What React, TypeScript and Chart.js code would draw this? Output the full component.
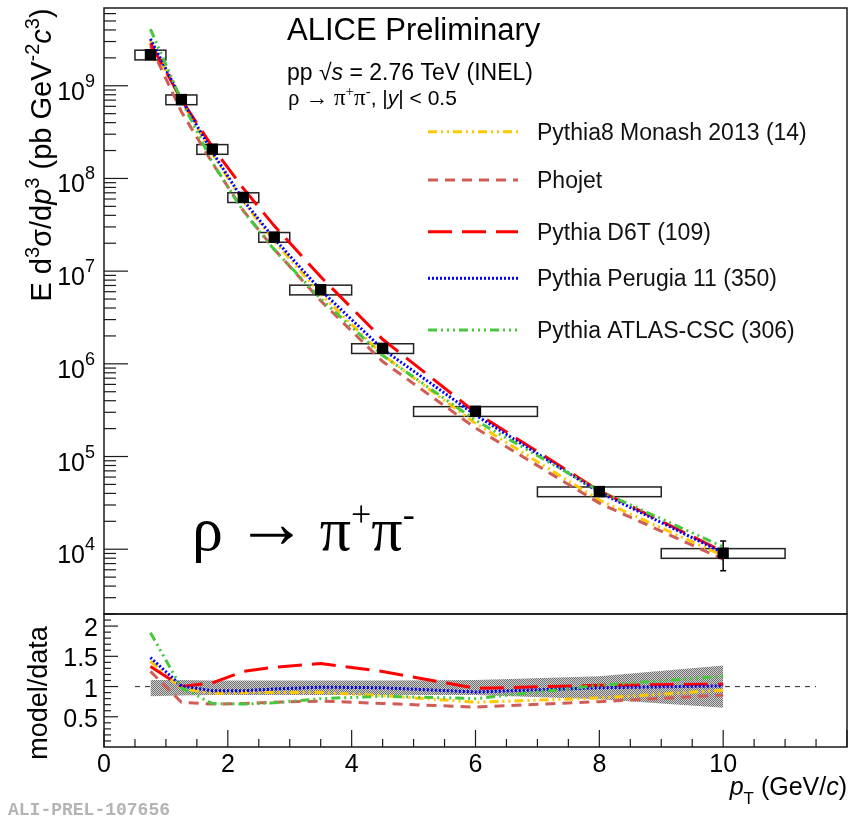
import React, { useEffect, useRef } from 'react';
import { Chart, registerables } from 'chart.js';
Chart.register(...registerables);

// ---------------- data ----------------
const ptCenters = [0.75, 1.25, 1.75, 2.25, 2.75, 3.5, 4.5, 6, 8, 10];
const ptBinLow = [0.5, 1, 1.5, 2, 2.5, 3, 4, 5, 7, 9];
const ptBinHigh = [1, 1.5, 2, 2.5, 3, 4, 5, 7, 9, 11];
const measured = [2.16e9, 7.1e8, 2.07e8, 6.25e7, 2.33e7, 6.3e6, 1.47e6, 3.08e5, 4.19e4, 9.06e3];
const statErr = [1.5e7, 5e6, 1.5e6, 5e5, 2e5, 6e4, 2e4, 6e3, 2.5e3, 3.2e3];
const sysRel = [0.12, 0.12, 0.12, 0.12, 0.12, 0.12, 0.12, 0.12, 0.12, 0.12];

const monashYield = [3.07e9, 6.89e8, 1.84e8, 5.63e7, 2.10e7, 5.67e6, 1.25e6, 2.28e5, 3.39e4, 8.52e3];
const phojetYield = [2.70e9, 5.25e8, 1.47e8, 4.50e7, 1.72e7, 4.79e6, 1.06e6, 2.03e5, 3.14e4, 7.79e3];
const d6tYield = [2.87e9, 7.10e8, 2.19e8, 7.81e7, 3.08e7, 8.69e6, 1.84e6, 2.99e5, 4.27e4, 9.42e3];
const perugiaYield = [3.20e9, 7.17e8, 1.93e8, 5.81e7, 2.24e7, 6.24e6, 1.44e6, 2.80e5, 4.11e4, 9.15e3];
const atlasYield = [4.08e9, 6.96e8, 1.49e8, 4.44e7, 1.70e7, 5.04e6, 1.23e6, 2.46e5, 4.27e4, 1.06e4];

const monashRatio = [1.42, 0.97, 0.89, 0.90, 0.90, 0.90, 0.85, 0.74, 0.81, 0.94];
const phojetRatio = [1.25, 0.74, 0.71, 0.72, 0.74, 0.76, 0.72, 0.66, 0.75, 0.86];
const d6tRatio = [1.33, 1.0, 1.06, 1.25, 1.32, 1.38, 1.25, 0.97, 1.02, 1.04];
const perugiaRatio = [1.48, 1.01, 0.93, 0.93, 0.96, 0.99, 0.98, 0.91, 0.98, 1.01];
const atlasRatio = [1.89, 0.98, 0.72, 0.71, 0.73, 0.80, 0.84, 0.80, 1.02, 1.17];

const bandLow = [0.84, 0.85, 0.86, 0.86, 0.86, 0.86, 0.86, 0.86, 0.79, 0.65];
const bandHigh = [1.11, 1.11, 1.10, 1.10, 1.10, 1.10, 1.10, 1.11, 1.17, 1.35];

const unityX = [0.5, 11.5];
const unityY = [1, 1];

const xTickLabels = [0, 2, 4, 6, 8, 10];
const ratioTickLabels = [0.5, 1, 1.5, 2];
const decadeExponents = [4, 5, 6, 7, 8, 9];

const modelNames = [
  'Pythia8 Monash 2013 (14)',
  'Phojet',
  'Pythia D6T (109)',
  'Pythia Perugia 11 (350)',
  'Pythia ATLAS-CSC (306)',
];
const modelYields = [monashYield, phojetYield, d6tYield, perugiaYield, atlasYield];
const modelRatios = [monashRatio, phojetRatio, d6tRatio, perugiaRatio, atlasRatio];

// ---------------- styles ----------------
const modelStyles = [
  { color: 'rgb(255,200,0)', dash: [9, 4, 2, 4, 2, 4] },
  { color: 'rgb(208,92,86)', dash: [10, 7] },
  { color: 'rgb(255,0,0)', dash: [24, 10] },
  { color: 'rgb(0,0,255)', dash: [2, 2] },
  { color: 'rgb(70,200,60)', dash: [9, 4, 2, 4, 2, 4, 2, 4] },
];

const SANS = "'Liberation Sans', Arial, sans-serif";
const SERIF = "'Liberation Serif', 'Times New Roman', serif";
const MONO = "'Liberation Mono', monospace";

type Seg = { t: string; px: number; fam?: string; it?: boolean; dy?: number; bold?: boolean };
const fontOf = (s: Seg) => `${s.it ? 'italic ' : ''}${s.bold ? 'bold ' : ''}${s.px}px ${s.fam || SANS}`;
function drawRich(ctx: CanvasRenderingContext2D, segs: Seg[], x: number, y: number, align = 'left') {
  let w = 0;
  for (const s of segs) { ctx.font = fontOf(s); w += ctx.measureText(s.t).width; }
  let cx = align === 'left' ? x : align === 'right' ? x - w : x - w / 2;
  ctx.textAlign = 'left';
  ctx.textBaseline = 'alphabetic';
  for (const s of segs) {
    ctx.font = fontOf(s);
    ctx.fillText(s.t, cx, y + (s.dy || 0));
    cx += ctx.measureText(s.t).width;
  }
}

function makePattern(): any {
  const c = document.createElement('canvas');
  c.width = 2; c.height = 2;
  const g = c.getContext('2d')!;
  g.fillStyle = '#d0d0d0'; g.fillRect(0, 0, 2, 2);
  g.fillStyle = '#707070'; g.fillRect(0, 0, 1, 1); g.fillRect(1, 1, 1, 1);
  return g.createPattern(c, 'repeat');
}

const line = (ctx: CanvasRenderingContext2D, x1: number, y1: number, x2: number, y2: number) => {
  ctx.beginPath(); ctx.moveTo(x1, y1); ctx.lineTo(x2, y2); ctx.stroke();
};

const topPlugin = {
  id: 'topDecor',
  beforeDatasetsDraw(chart: any) {
    const { ctx, scales: { x, y } } = chart;
    ctx.save();
    ctx.strokeStyle = '#222';
    ctx.lineWidth = 1.5;
    for (let i = 0; i < ptCenters.length; i++) {
      const l = x.getPixelForValue(ptBinLow[i]);
      const r = x.getPixelForValue(ptBinHigh[i]);
      const t = y.getPixelForValue(measured[i] * (1 + sysRel[i]));
      const b = y.getPixelForValue(measured[i] * (1 - sysRel[i]));
      ctx.strokeRect(l, t, r - l, b - t);
    }
    ctx.restore();
  },
  afterDatasetsDraw(chart: any) {
    const { ctx, chartArea: a, scales: { x, y } } = chart;
    ctx.save();
    // stat error bars
    ctx.strokeStyle = '#000';
    ctx.lineWidth = 1.5;
    for (let i = 0; i < ptCenters.length; i++) {
      const px = x.getPixelForValue(ptCenters[i]);
      const t = y.getPixelForValue(measured[i] + statErr[i]);
      const b = y.getPixelForValue(measured[i] - statErr[i]);
      line(ctx, px, t, px, b);
      line(ctx, px - 3, t, px + 3, t);
      line(ctx, px - 3, b, px + 3, b);
    }
    // frame
    ctx.strokeStyle = '#1a1a1a';
    ctx.lineWidth = 1.5;
    ctx.strokeRect(a.left, a.top, a.right - a.left, a.bottom - a.top);
    // y ticks
    ctx.lineWidth = 1.2;
    for (let e = 3; e <= 9; e++) {
      for (let m = 1; m <= 9; m++) {
        const v = m * Math.pow(10, e);
        if (v < y.min || v > y.max) continue;
        const py = y.getPixelForValue(v);
        line(ctx, a.left, py, a.left + (m === 1 ? 24 : 12), py);
      }
    }
    // y labels
    ctx.fillStyle = '#000';
    for (const e of decadeExponents) {
      const py = y.getPixelForValue(Math.pow(10, e));
      drawRich(ctx, [{ t: '10', px: 25 }, { t: String(e), px: 18, dy: -13 }], 95, py + 14, 'right');
    }
    // y title
    ctx.save();
    ctx.translate(51, 155);
    ctx.rotate(-Math.PI / 2);
    drawRich(ctx, [
      { t: 'E d', px: 29 }, { t: '3', px: 20, dy: -12 }, { t: 'σ/d', px: 29 }, { t: 'p', px: 29, it: true },
      { t: '3', px: 20, dy: -12 }, { t: ' (pb GeV', px: 29 }, { t: '-2', px: 20, dy: -12 },
      { t: 'c', px: 29, it: true }, { t: '3', px: 20, dy: -12 }, { t: ')', px: 29 },
    ], 0, 0, 'center');
    ctx.restore();
    // header
    drawRich(ctx, [{ t: 'ALICE Preliminary', px: 31 }], 287, 40);
    drawRich(ctx, [{ t: 'pp ', px: 23 }, { t: '√', px: 23 }, { t: 's', px: 23, it: true }, { t: ' = 2.76 TeV (INEL)', px: 23 }], 287, 80);
    drawRich(ctx, [
      { t: 'ρ → π', px: 23, fam: SERIF }, { t: '+', px: 15, fam: SERIF, dy: -9 }, { t: 'π', px: 23, fam: SERIF },
      { t: '-', px: 15, fam: SERIF, dy: -9 }, { t: ', |', px: 21 }, { t: 'y', px: 21, it: true }, { t: '| < 0.5', px: 21 },
    ], 288, 105);
    // legend
    const rows = [131.7, 180, 231.7, 278.3, 330];
    for (let k = 0; k < modelNames.length; k++) {
      ctx.strokeStyle = modelStyles[k].color;
      ctx.lineWidth = 3;
      ctx.setLineDash(modelStyles[k].dash);
      line(ctx, 428, rows[k], 518, rows[k]);
      ctx.setLineDash([]);
      ctx.fillStyle = '#111';
      drawRich(ctx, [{ t: modelNames[k], px: 23 }], 537, rows[k] + 8);
    }
    // big label
    ctx.fillStyle = '#000';
    drawRich(ctx, [
      { t: 'ρ\u2009', px: 62, fam: SERIF }, { t: '→', px: 72, fam: SERIF, dy: -3 }, { t: '\u2009π', px: 62, fam: SERIF },
      { t: '+', px: 36, fam: SERIF, dy: -24 },
      { t: 'π', px: 62, fam: SERIF }, { t: '-', px: 36, fam: SERIF, dy: -24 },
    ], 192, 550);
    ctx.restore();
  },
};

const ratioPlugin = {
  id: 'ratioDecor',
  afterDatasetsDraw(chart: any) {
    const { ctx, chartArea: a, scales: { x, y } } = chart;
    ctx.save();
    ctx.strokeStyle = '#1a1a1a';
    ctx.lineWidth = 1.5;
    ctx.strokeRect(a.left, a.top, a.right - a.left, a.bottom - a.top);
    ctx.lineWidth = 1.2;
    // x ticks
    for (let k = 0; k <= 24; k++) {
      const v = k * 0.5;
      const px = x.getPixelForValue(v);
      line(ctx, px, a.bottom, px, a.bottom - (k % 4 === 0 ? 17 : 8));
    }
    // y ticks
    for (let k = 1; k <= 22; k++) {
      const v = k * 0.1;
      const py = y.getPixelForValue(v);
      line(ctx, a.left, py, a.left + (k % 5 === 0 ? 14 : 7), py);
    }
    ctx.fillStyle = '#000';
    for (const v of xTickLabels) {
      drawRich(ctx, [{ t: String(v), px: 25 }], x.getPixelForValue(v), 772, 'center');
    }
    for (const v of ratioTickLabels) {
      drawRich(ctx, [{ t: String(v), px: 25 }], 98, y.getPixelForValue(v) + 10, 'right');
    }
    // x title
    drawRich(ctx, [
      { t: 'p', px: 25, it: true }, { t: 'T', px: 17, dy: 9 }, { t: ' (GeV/', px: 25 },
      { t: 'c', px: 25, it: true }, { t: ')', px: 25 },
    ], 847, 795, 'right');
    // y title
    ctx.save();
    ctx.translate(47, 693);
    ctx.rotate(-Math.PI / 2);
    drawRich(ctx, [{ t: 'model/data', px: 27 }], 0, 0, 'center');
    ctx.restore();
    // watermark
    ctx.fillStyle = '#b4b4b4';
    drawRich(ctx, [{ t: 'ALI-PREL-107656', px: 18, fam: MONO, bold: true }], 8, 815);
    ctx.restore();
  },
};

export default function App() {
  const topRef = useRef<HTMLCanvasElement>(null);
  const ratioRef = useRef<HTMLCanvasElement>(null);

  useEffect(() => {
    const modelLine = (k: number, ys: number[]) => ({
      data: ptCenters.map((x, i) => ({ x, y: ys[i] })),
      borderColor: modelStyles[k].color,
      borderDash: modelStyles[k].dash,
      borderWidth: 3,
      pointRadius: 0,
      fill: false,
      tension: 0,
      order: 10 - k,
    });

    const top = new Chart(topRef.current!, {
      type: 'line',
      data: {
        datasets: [
          {
            data: ptCenters.map((x, i) => ({ x, y: measured[i] })),
            showLine: false,
            pointStyle: 'rect',
            pointRadius: 8,
            backgroundColor: '#000',
            borderColor: '#000',
            borderWidth: 0,
            order: 0,
          } as any,
          ...modelYields.map((ys, k) => modelLine(k, ys)),
        ],
      },
      options: {
        animation: false,
        responsive: false,
        devicePixelRatio: 1,
        events: [],
        layout: { padding: { left: 104, right: 14, top: 4, bottom: 205 } },
        plugins: { legend: { display: false }, tooltip: { enabled: false } },
        scales: {
          x: { type: 'linear', min: 0, max: 12, display: false },
          y: { type: 'logarithmic', min: 2000, max: 6.9e9, display: false },
        },
      },
      plugins: [topPlugin],
    });

    const ratio = new Chart(ratioRef.current!, {
      type: 'line',
      data: {
        datasets: [
          {
            data: ptCenters.map((x, i) => ({ x, y: bandHigh[i] })),
            borderColor: 'transparent',
            borderWidth: 0,
            pointRadius: 0,
            fill: '+1',
            backgroundColor: makePattern(),
            order: 30,
          } as any,
          {
            data: ptCenters.map((x, i) => ({ x, y: bandLow[i] })),
            borderColor: 'transparent',
            borderWidth: 0,
            pointRadius: 0,
            fill: false,
            order: 31,
          },
          {
            data: unityX.map((x, i) => ({ x, y: unityY[i] })),
            borderColor: '#444',
            borderDash: [5, 5],
            borderWidth: 1.2,
            pointRadius: 0,
            fill: false,
            order: 40,
          },
          ...modelRatios.map((ys, k) => modelLine(k, ys)),
        ],
      },
      options: {
        animation: false,
        responsive: false,
        devicePixelRatio: 1,
        events: [],
        layout: { padding: { left: 104, right: 14, top: 614, bottom: 72 } },
        plugins: { legend: { display: false }, tooltip: { enabled: false } },
        scales: {
          x: { type: 'linear', min: 0, max: 12, display: false },
          y: { type: 'linear', min: 0, max: 2.2, display: false },
        },
      },
      plugins: [ratioPlugin],
    });

    return () => {
      top.destroy();
      ratio.destroy();
    };
  }, []);

  const cs: React.CSSProperties = { position: 'absolute', left: 0, top: 0, width: 861, height: 819 };
  return (
    <div style={{ position: 'absolute', left: 0, top: 0, width: 861, height: 819, background: '#fff' }}>
      <canvas ref={topRef} width={861} height={819} style={cs} />
      <canvas ref={ratioRef} width={861} height={819} style={cs} />
    </div>
  );
}
